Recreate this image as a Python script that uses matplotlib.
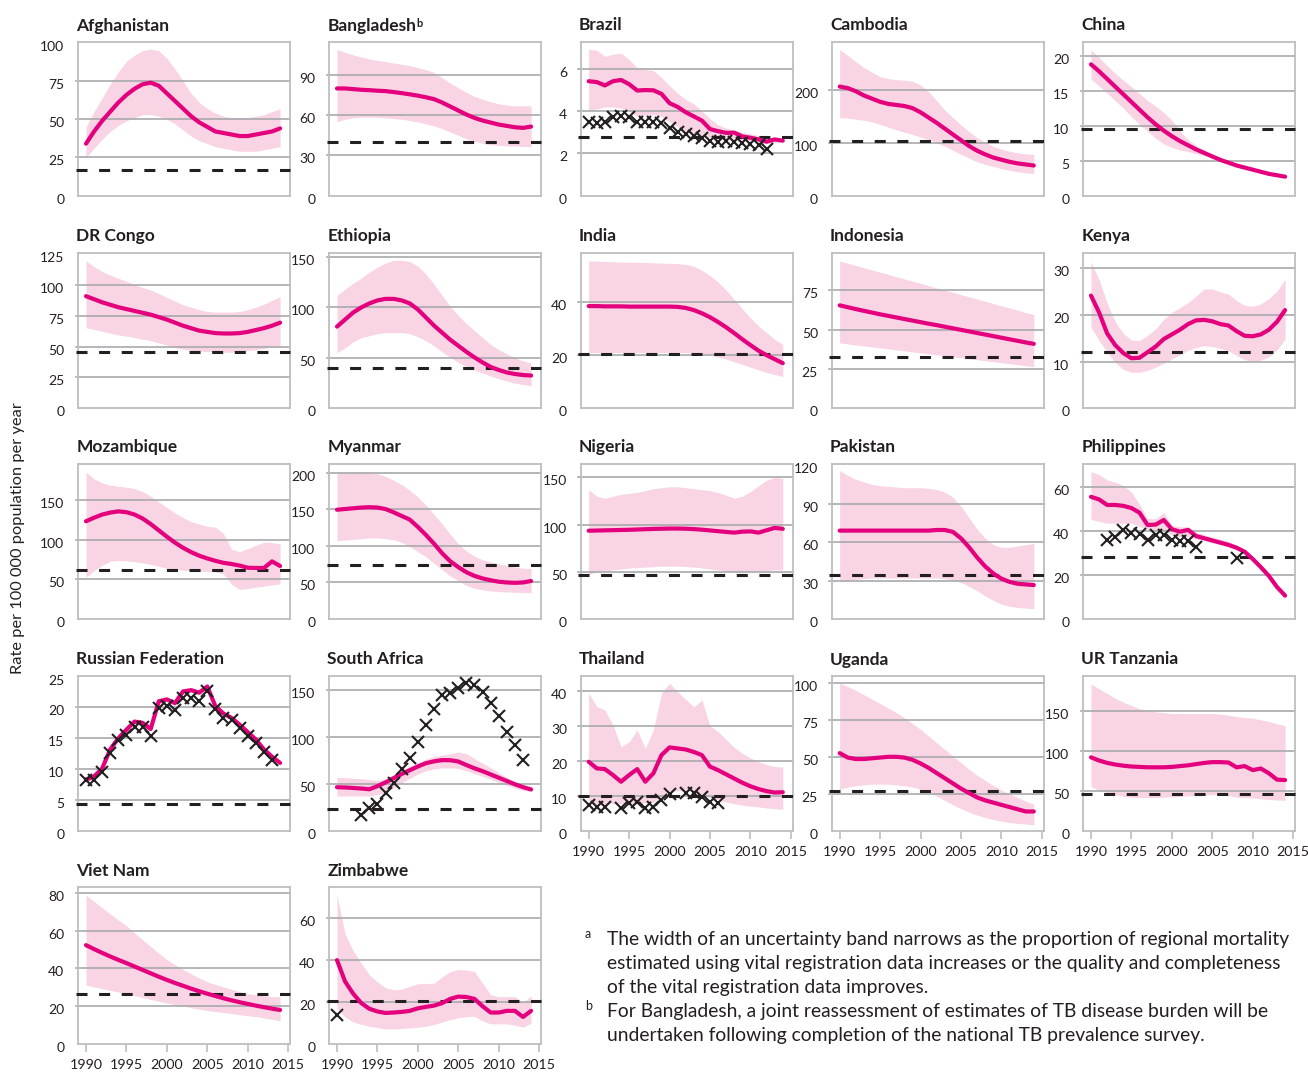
import matplotlib
matplotlib.use("Agg")
import matplotlib.pyplot as plt
from matplotlib.transforms import blended_transform_factory, ScaledTranslation

plt.rcParams['font.family'] = ['Lato', 'DejaVu Sans']

years = list(range(1990, 2015))

# ---------------- data (rate per 100 000 population per year) ----------------
afg_best = [34, 42, 49, 55, 61, 66, 70, 73, 74, 72, 67, 62, 57, 52, 48, 45, 42, 41, 40, 39, 39, 40, 41, 42, 44]
afg_lo = [25, 31, 37, 42, 46, 49, 51, 53, 53, 52, 50, 47, 43, 39, 36, 34, 32, 31, 30, 29, 29, 29, 30, 31, 32]
afg_hi = [45, 55, 64, 73, 81, 88, 92, 95, 96, 95, 90, 83, 75, 67, 61, 57, 54, 52, 51, 51, 51, 52, 53, 55, 57]

bgd_best = [80, 80, 79.5, 79, 78.7, 78.3, 78, 77.3, 76.5, 75.6, 74.6, 73.4, 72, 69.5, 66.5, 63.5, 60.5, 58, 56, 54.5, 53, 52, 51, 50.5, 51.5]
bgd_lo = [55, 57, 58, 58.5, 58.5, 58.5, 58, 57.5, 57, 56, 55, 53.5, 52, 50, 47.5, 45, 42.5, 40.5, 39, 38, 37.5, 37, 37, 36.5, 36.5]
bgd_hi = [109, 107, 105, 103.5, 102, 101, 100, 99, 98, 97, 95.5, 94, 92, 88, 84, 80.5, 77, 74, 72, 70, 68.5, 67.5, 67, 67, 67]

bra_best = [5.42, 5.38, 5.22, 5.42, 5.48, 5.28, 4.98, 5.0, 4.99, 4.82, 4.38, 4.2, 3.95, 3.75, 3.55, 3.15, 3.05, 2.97, 2.98, 2.8, 2.74, 2.66, 2.55, 2.66, 2.6]
bra_lo = [4.07, 4.1, 4.2, 4.2, 4.15, 3.99, 3.76, 3.8, 3.84, 3.75, 3.5, 3.25, 3.05, 2.9, 2.82, 2.74, 2.7, 2.68, 2.66, 2.62, 2.58, 2.52, 2.48, 2.52, 2.55]
bra_hi = [6.93, 6.9, 6.6, 6.7, 6.75, 6.45, 6.05, 5.98, 5.92, 5.6, 5.2, 4.85, 4.55, 4.35, 4.0, 3.65, 3.35, 3.2, 3.08, 3.0, 2.92, 2.85, 2.8, 2.72, 2.68]
bra_vr_years = list(range(1990, 2013))
bra_vr = [3.47, 3.45, 3.5, 3.72, 3.78, 3.72, 3.5, 3.47, 3.5, 3.45, 3.2, 3.0, 2.9, 2.8, 2.75, 2.6, 2.55, 2.58, 2.55, 2.5, 2.45, 2.4, 2.2]

khm_best = [207, 204, 198, 190, 184, 178, 174, 172, 170, 166, 158, 148, 138, 127, 116, 105, 94, 85, 78, 72, 68, 64, 61, 59, 57]
khm_lo = [148, 147, 145, 143, 140, 135, 130, 125, 120, 116, 111, 106, 100, 94, 86, 78, 71, 64, 59, 55, 51, 48, 45, 43, 42]
khm_hi = [277, 266, 254, 243, 234, 226, 222, 220, 219, 217, 210, 197, 180, 162, 148, 134, 121, 110, 101, 93, 88, 84, 81, 79, 78]

chn_best = [18.8, 17.8, 16.7, 15.6, 14.5, 13.4, 12.3, 11.2, 10.2, 9.3, 8.5, 7.8, 7.2, 6.6, 6.1, 5.6, 5.1, 4.7, 4.3, 4.0, 3.7, 3.4, 3.1, 2.9, 2.7]
chn_lo = [16.7, 15.7, 14.7, 13.6, 12.5, 11.3, 10.2, 9.2, 8.2, 7.4, 6.9, 6.5, 6.3, 6.0, 5.7, 5.4, 4.95, 4.55, 4.15, 3.85, 3.55, 3.25, 2.95, 2.75, 2.55]
chn_hi = [20.9, 19.8, 18.6, 17.5, 16.5, 15.6, 14.6, 13.6, 12.8, 11.9, 10.8, 9.3, 8.0, 7.2, 6.5, 5.8, 5.25, 4.85, 4.45, 4.15, 3.85, 3.55, 3.25, 3.05, 2.85]

cod_best = [91, 88.5, 86, 84, 82, 80.5, 79, 77.5, 76, 74, 72, 69.5, 67, 65, 63, 62, 61, 60.7, 60.7, 61, 62, 63.5, 65, 67, 69.5]
cod_lo = [65.5, 64, 62.5, 61, 59.5, 58.5, 57.5, 56, 55, 53, 51.5, 49.5, 48, 47, 46.5, 46, 45.7, 45.5, 45.5, 46, 47, 47.5, 48.5, 50, 51]
cod_hi = [119.6, 115, 111, 108, 105.5, 103, 100.5, 98, 96, 93, 90, 87, 84, 82, 80, 78.5, 78, 78, 78, 78.5, 80, 82, 84.5, 87.5, 90.5]

eth_best = [81, 88, 95, 100, 104, 107, 108.5, 108.5, 107, 104, 98, 90, 82, 75, 68, 62, 56, 50.5, 45.5, 41, 38, 35.5, 34, 33, 32.5]
eth_lo = [55, 60, 66, 70, 72, 74, 75, 75, 75, 74, 71, 67, 62, 56, 50.5, 45.5, 41.5, 38, 35, 32, 29.5, 27, 25, 23.5, 22.5]
eth_hi = [112, 118, 124, 129, 135, 140, 144, 146.7, 146.7, 145.5, 141, 133, 123, 112, 101, 92, 84, 77, 70, 63.5, 58, 54, 50, 47, 45]

ind_best = [38.5, 38.5, 38.4, 38.4, 38.4, 38.3, 38.3, 38.3, 38.3, 38.3, 38.3, 38.2, 37.8, 37, 35.8, 34.3, 32.5, 30.5, 28.3, 26, 23.8, 21.7, 20, 18.5, 17]
ind_lo = [21, 21, 21, 21, 21, 21, 21, 21, 21, 21, 21, 21, 21, 20.8, 20.5, 20, 19.3, 18.5, 17.5, 16.5, 15.5, 14.5, 13.5, 12.7, 12]
ind_hi = [55.5, 55.4, 55.3, 55.2, 55.1, 55, 55, 54.9, 54.8, 54.7, 54.6, 54.5, 54.2, 53.5, 52, 50, 47.5, 44.5, 41, 37.5, 34, 31, 28.5, 26, 24]

idn_best = [65.5, 64.3, 63.1, 62.0, 60.9, 59.8, 58.8, 57.8, 56.8, 55.8, 54.8, 53.8, 52.9, 51.9, 50.9, 49.9, 48.9, 47.9, 46.9, 45.9, 44.9, 43.9, 42.9, 41.9, 41.0]
idn_lo = [41.6, 41.0, 40.3, 39.7, 39.1, 38.5, 37.8, 37.2, 36.6, 35.9, 35.3, 34.7, 34.0, 33.4, 32.8, 32.2, 31.5, 30.9, 30.3, 29.6, 29.0, 28.4, 27.8, 27.1, 26.5]
idn_hi = [93.7, 92.3, 90.9, 89.4, 88.0, 86.6, 85.2, 83.7, 82.3, 80.9, 79.5, 78.0, 76.6, 75.2, 73.8, 72.3, 70.9, 69.5, 68.1, 66.6, 65.2, 63.8, 62.4, 60.9, 59.5]

ken_best = [24.1, 20.5, 16.0, 13.5, 11.8, 10.7, 10.8, 12.0, 13.2, 14.8, 15.8, 16.8, 18.0, 18.8, 18.9, 18.6, 18.0, 17.7, 16.5, 15.5, 15.4, 15.8, 16.8, 18.5, 21.0]
ken_lo = [17.3, 14.5, 12.0, 9.8, 8.3, 7.7, 7.7, 8.1, 8.8, 9.6, 10.5, 11.5, 12.4, 13.0, 13.4, 13.2, 12.8, 12.3, 11.3, 10.4, 10.0, 10.3, 11.0, 12.5, 14.8]
ken_hi = [31.3, 27.5, 22.5, 18.5, 16.0, 14.6, 14.5, 15.6, 17.0, 19.0, 20.5, 21.5, 22.6, 24.0, 25.5, 25.5, 24.9, 24.4, 23.0, 22.0, 21.8, 22.3, 23.5, 25.0, 27.6]

moz_best = [123.5, 128, 132, 134.5, 136, 135, 132, 127, 120, 112, 104, 96.5, 90, 84.5, 80, 76.5, 73.5, 71, 69.5, 67.5, 64.8, 64.5, 64.5, 72.8, 67]
moz_lo = [53, 61, 68, 73, 74, 73.5, 72.5, 71, 69, 66.5, 64, 62.5, 61.5, 61, 60.5, 60, 59.5, 57, 44, 37.5, 38.5, 40, 41.5, 43, 44.5]
moz_hi = [185.8, 177, 172, 169, 167.7, 166.5, 164.8, 161, 155, 148, 141, 134, 128, 123, 120, 117, 116, 108, 88, 85, 89, 93, 97, 96.5, 95]

mmr_best = [149.5, 150.5, 151.5, 152.5, 153, 152.5, 150.5, 146, 141, 136, 126, 115, 103, 90, 79, 71, 64, 59, 55.5, 53, 51, 50, 49.5, 50, 52]
mmr_lo = [107, 108, 109, 110, 111, 111, 110, 108.5, 105, 99, 92, 85, 76, 67.5, 59, 52, 46, 42, 40, 38.5, 37.5, 37, 36.5, 36.2, 36]
mmr_hi = [200, 200.5, 201, 201, 201, 199, 195, 190, 184, 176, 167, 156, 143, 130, 116, 103, 93, 86, 81, 78, 75.5, 73, 71, 69.5, 69]

nga_best = [93.5, 93.7, 93.9, 94.1, 94.3, 94.5, 94.8, 95.1, 95.4, 95.6, 95.8, 95.8, 95.6, 95.2, 94.6, 93.8, 93, 92.2, 91.5, 92.5, 92.8, 91.5, 94, 96.5, 95.5]
nga_lo = [47, 50, 51, 52, 53, 54, 54.5, 55, 55.5, 56, 56, 56, 55.5, 55, 54, 53, 52, 51, 50, 50, 50.5, 51, 51.5, 52, 52]
nga_hi = [137, 130, 128, 130, 132, 133, 134, 136, 138, 139, 140, 140, 139, 138, 137, 136, 134, 131, 128, 130, 135, 141, 147, 150, 149]

pak_best = [69, 69, 69, 69, 69, 69, 69, 69, 69, 69, 69, 69, 69.5, 69.5, 68, 63, 56, 48, 41, 35.5, 31.5, 29, 27.5, 27, 26.5]
pak_lo = [29, 30, 31, 31.5, 32, 32, 32, 32, 32, 32, 32, 32, 32, 31.5, 30.5, 28.5, 25.5, 22, 18, 14.5, 11.5, 10, 9, 8.5, 8]
pak_hi = [116, 112, 109, 107, 105, 104, 103.5, 103, 102.5, 102.5, 102.5, 102, 101, 99, 95, 88, 79, 70, 63, 58, 56, 56, 57, 58, 59]

phl_best = [55.4, 54.2, 51.7, 51.7, 51.3, 50.3, 48.2, 42.6, 42.8, 44.9, 40.7, 39.6, 40.4, 37.6, 36.6, 35.6, 34.6, 33.6, 32.3, 30.5, 27.2, 23.5, 19.5, 14.5, 10.6]
phl_lo = [45.2, 44.3, 43.4, 43.4, 43.4, 43.4, 42, 40.7, 40.4, 40.4, 38, 37.3, 37.3, 36.3, 35.5, 34.6, 33.7, 32.8, 31.5, 29.8, 26.8, 23.1, 19.2, 14.2, 10.3]
phl_hi = [66.7, 65.5, 63, 62, 60.5, 57.5, 52, 45.5, 45.5, 48.2, 42.5, 41.8, 41.8, 39.2, 38.2, 37.2, 36.2, 35.2, 33.5, 30.8, 27.5, 23.8, 19.8, 14.8, 10.9]
phl_vr_years = [1992, 1993, 1994, 1995, 1996, 1997, 1998, 1999, 2000, 2001, 2002, 2003, 2008]
phl_vr = [36, 37, 40.5, 39, 38.5, 36, 38, 38, 36, 35.5, 35.5, 32.5, 27.5]

rus_best = [8.3, 8.8, 10.1, 13.2, 15.0, 16.4, 17.7, 17.5, 16.5, 21.0, 21.3, 20.7, 22.6, 22.8, 22.4, 23.4, 20.2, 19.0, 18.3, 17.2, 16.0, 14.8, 13.2, 12.0, 11.0]
rus_lo = [7.9, 8.4, 9.7, 12.8, 14.6, 16.0, 17.3, 17.1, 16.1, 20.6, 20.9, 20.3, 22.2, 22.4, 22.0, 23.0, 19.8, 18.6, 17.9, 16.8, 15.6, 14.4, 12.8, 11.6, 10.6]
rus_hi = [8.7, 9.2, 10.5, 13.6, 15.4, 16.8, 18.1, 17.9, 16.9, 21.4, 21.7, 21.1, 23.0, 23.2, 22.8, 23.8, 20.6, 19.4, 18.7, 17.6, 16.4, 15.2, 13.6, 12.4, 11.4]
rus_vr_years = list(range(1990, 2014))
rus_vr = [8.25, 8.25, 9.6, 12.6, 14.7, 15.5, 16.8, 16.8, 15.3, 19.9, 20.3, 19.6, 21.5, 21.5, 21.1, 22.6, 19.7, 18.3, 17.9, 16.6, 15.3, 14.3, 12.7, 11.5]

zaf_best = [46.4, 46.1, 45.6, 45.0, 44.2, 47.5, 51.5, 56, 60.5, 64.5, 68.5, 72, 74, 75.3, 75.2, 73.8, 70, 66.5, 63.5, 60, 56.5, 53, 49.5, 46.5, 44]
zaf_lo = [37, 37, 37, 37, 37, 38.5, 41, 45.5, 51, 56, 60.5, 64, 66, 67, 67, 66.5, 64, 61, 58, 55, 51.5, 48.5, 45.5, 43, 42]
zaf_hi = [57, 56.5, 56, 55.5, 54.5, 53.5, 55.5, 60, 64.5, 68.5, 72.5, 76.5, 79, 80.5, 82, 84, 82, 77, 72, 67, 62, 57, 52, 48.5, 46]
zaf_vr_years = list(range(1993, 2014))
zaf_vr = [17, 24, 28.4, 40.3, 51.1, 65.5, 78, 94.3, 112.3, 130.3, 144.7, 147.2, 152.6, 157.3, 155.5, 148.3, 135.7, 122, 105.8, 91.8, 75.3]

tha_best = [19.7, 17.8, 17.6, 15.9, 14.0, 15.9, 17.6, 14.0, 16.4, 21.6, 23.8, 23.5, 23.2, 22.5, 21.6, 18.3, 17.3, 16.1, 14.9, 13.7, 12.7, 11.9, 11.3, 10.9, 11.0]
tha_lo = [7.6, 7.6, 7.6, 7.7, 7.7, 7.8, 7.8, 7.9, 8.2, 9.7, 11.1, 11.4, 11.6, 11.2, 10.3, 9.5, 8.8, 8.2, 7.7, 7.3, 7.0, 6.8, 6.5, 6.3, 6.1]
tha_hi = [39.3, 35.5, 34.5, 30.2, 24.0, 25.4, 28.8, 23.5, 28.8, 39.3, 42.1, 39.7, 37.5, 35.4, 37.3, 29.9, 28.3, 26.0, 23.8, 22.1, 20.8, 19.7, 18.9, 18.3, 18.2]
tha_vr_years = [1990, 1991, 1992, 1994, 1995, 1996, 1997, 1998, 1999, 2000, 2002, 2003, 2004, 2005, 2006]
tha_vr = [7.3, 6.9, 6.9, 6.4, 7.8, 8.3, 6.4, 6.9, 8.8, 10.5, 10.9, 10.7, 9.7, 8.3, 8.0]

uga_best = [52.5, 49.5, 48.5, 48.5, 49, 49.5, 50, 50, 49.5, 48, 45.5, 42.5, 39, 35.5, 32, 28.5, 25.5, 22.5, 20.5, 19, 17.5, 16, 14.5, 13, 13]
uga_lo = [28, 29.5, 30.5, 31, 31.5, 31.5, 31.5, 31, 30.5, 29.5, 28, 26, 23.5, 20.5, 17.5, 15, 12.5, 10.5, 9, 7.5, 6.5, 5.5, 5, 4.5, 4]
uga_hi = [100, 97.5, 95, 92, 89, 86, 83, 80, 76.5, 72.5, 68.5, 64, 59.5, 55, 50.5, 46, 41.5, 37.5, 34, 30.5, 27.5, 25, 22.5, 20, 18]

tza_best = [92, 88, 85, 83, 81.5, 80.5, 80, 79.5, 79.5, 79.5, 80, 81, 82, 83.5, 85, 86, 86, 85.5, 79.5, 81, 76, 78, 72, 64, 63.5]
tza_lo = [55, 51, 48, 45, 43, 42, 41.5, 41.5, 41.5, 42, 42.5, 43, 43.5, 44, 44.5, 45, 45, 44, 42, 41.5, 41, 40, 39, 38.5, 38]
tza_hi = [184, 178, 172, 166, 161, 157, 153, 151, 149, 148, 147, 147, 147, 147, 147, 147, 146, 145, 143, 142, 141, 139, 137, 134, 132]

vnm_best = [52.3, 50.2, 48.2, 46.3, 44.5, 42.8, 41, 39.2, 37.4, 35.6, 33.9, 32.3, 30.8, 29.3, 27.9, 26.6, 25.4, 24.2, 23.1, 22.1, 21.2, 20.3, 19.5, 18.7, 18]
vnm_lo = [31.2, 30.2, 29.3, 28.4, 27.5, 26.6, 25.6, 24.6, 23.6, 22.6, 21.6, 20.8, 20, 19.2, 18.4, 17.7, 17.2, 16.6, 16.1, 15.5, 15, 14.5, 13.8, 13, 12.3]
vnm_hi = [78.8, 75.4, 72, 68.8, 65.6, 62.6, 58.8, 55.1, 51.6, 48, 44.6, 42, 39.5, 37.1, 34.9, 32.9, 31.5, 30.2, 28.9, 27.7, 26.6, 26, 25.5, 25.1, 24.9]

zwe_best = [40, 29.8, 24, 19.5, 16.8, 15.5, 14.8, 15, 15.3, 15.8, 17, 17.7, 18.3, 19.5, 21.5, 22.6, 22.4, 21.5, 18, 15, 15, 15.8, 15.8, 12.9, 15.8]
zwe_lo = [16.9, 12.9, 10.5, 9.4, 8.5, 7.8, 7.2, 7.2, 7.4, 7.7, 8, 8.5, 9.3, 10.5, 11.6, 12.5, 13, 13.2, 11, 9.6, 9.6, 9.6, 9, 8, 10]
zwe_hi = [71, 52.4, 44.5, 38.5, 33, 29.5, 26.8, 25.8, 26.2, 27.5, 28.7, 28.8, 29, 32, 34.5, 35.5, 35.3, 34.5, 29, 23.5, 22.5, 22.6, 22.6, 19.7, 23]
zwe_vr_years = [1990]
zwe_vr = [13.7]

# target (dashed) levels
targets = [17, 40, 2.77, 103, 9.5, 45.7, 40, 20.3, 32.4, 12.1, 61.4, 74.3, 47, 34.5, 28,
           4.3, 23, 10, 27, 46, 26.3, 20.5]
titles = ["Afghanistan", "Bangladesh", "Brazil", "Cambodia", "China",
          "DR Congo", "Ethiopia", "India", "Indonesia", "Kenya",
          "Mozambique", "Myanmar", "Nigeria", "Pakistan", "Philippines",
          "Russian Federation", "South Africa", "Thailand", "Uganda", "UR Tanzania",
          "Viet Nam", "Zimbabwe"]
ytick_sets = [[0, 25, 50, 75, 100], [0, 30, 60, 90], [0, 2, 4, 6], [0, 100, 200], [0, 5, 10, 15, 20],
              [0, 25, 50, 75, 100, 125], [0, 50, 100, 150], [0, 20, 40], [0, 25, 50, 75], [0, 10, 20, 30],
              [0, 50, 100, 150], [0, 50, 100, 150, 200], [0, 50, 100, 150], [0, 30, 60, 90, 120], [0, 20, 40, 60],
              [0, 5, 10, 15, 20, 25], [0, 50, 100, 150], [0, 10, 20, 30, 40], [0, 25, 50, 75, 100], [0, 50, 100, 150],
              [0, 20, 40, 60, 80], [0, 20, 40, 60]]
ymaxes = [100.7, 114.7, 7.28, 291.6, 22, 126, 154, 58.5, 98.8, 33.2,
          196.5, 212.8, 164.7, 121.4, 70.5, 25.1, 165, 44.2, 104.7, 194, 82.9, 74.7]
xtick_labels = [1990, 1995, 2000, 2005, 2010, 2015]

series = [
    (afg_best, afg_lo, afg_hi, None, None),
    (bgd_best, bgd_lo, bgd_hi, None, None),
    (bra_best, bra_lo, bra_hi, bra_vr_years, bra_vr),
    (khm_best, khm_lo, khm_hi, None, None),
    (chn_best, chn_lo, chn_hi, None, None),
    (cod_best, cod_lo, cod_hi, None, None),
    (eth_best, eth_lo, eth_hi, None, None),
    (ind_best, ind_lo, ind_hi, None, None),
    (idn_best, idn_lo, idn_hi, None, None),
    (ken_best, ken_lo, ken_hi, None, None),
    (moz_best, moz_lo, moz_hi, None, None),
    (mmr_best, mmr_lo, mmr_hi, None, None),
    (nga_best, nga_lo, nga_hi, None, None),
    (pak_best, pak_lo, pak_hi, None, None),
    (phl_best, phl_lo, phl_hi, phl_vr_years, phl_vr),
    (rus_best, rus_lo, rus_hi, rus_vr_years, rus_vr),
    (zaf_best, zaf_lo, zaf_hi, zaf_vr_years, zaf_vr),
    (tha_best, tha_lo, tha_hi, tha_vr_years, tha_vr),
    (uga_best, uga_lo, uga_hi, None, None),
    (tza_best, tza_lo, tza_hi, None, None),
    (vnm_best, vnm_lo, vnm_hi, None, None),
    (zwe_best, zwe_lo, zwe_hi, zwe_vr_years, zwe_vr),
]
with_xlabels = {"Thailand", "Uganda", "UR Tanzania", "Viet Nam", "Zimbabwe"}

# ---------------- styling ----------------
W, H = 1308, 1073
MAG = "#E4007C"
BAND = "#F8D4E4"
GRID = "#A7A9AC"
BOX = "#BCBEC0"
DASH = "#231F20"
TXT = "#231F20"

col_left = [78.3, 329.3, 581, 832, 1083.3]
col_w = 211.5
row_top = [42, 253, 463.5, 676, 887.3]
row_bot = [195.5, 408.3, 619, 830.7, 1044]

fig = plt.figure(figsize=(W / 100, H / 100), dpi=100)

for i, (name, (best, lo, hi, vyr, vval)) in enumerate(zip(titles, series)):
    r, c = divmod(i, 5)
    l, t, b = col_left[c], row_top[r], row_bot[r]
    ax = fig.add_axes([l / W, 1 - b / H, col_w / W, (b - t) / H])
    ymax = ymaxes[i]
    ax.fill_between(years, lo, hi, color=BAND, lw=0, zorder=1)
    for v in ytick_sets[i][1:]:
        if v < ymax * 0.985:
            ax.axhline(v, xmin=-0.012, xmax=1, color=GRID, lw=1.2, zorder=2, clip_on=False)
    ax.axhline(targets[i], xmin=-0.012, xmax=1, color=DASH, lw=2.2, dashes=(3.6, 3.8),
               zorder=3, clip_on=False)
    ax.plot(years, best, color=MAG, lw=3.0, zorder=4, solid_capstyle='round',
            solid_joinstyle='round')
    if vyr is not None:
        ax.plot(vyr, vval, ls='none', marker='x', ms=8.5, mew=1.5, color=TXT, zorder=5)
    ax.set_xlim(1989.05, 2015.2)
    ax.set_ylim(0, ymax)
    ax.set_yticks([])
    for s in ax.spines.values():
        s.set_color(BOX)
        s.set_linewidth(1.3)
    trans = blended_transform_factory(ax.transAxes, ax.transData) + \
        ScaledTranslation(-0.14, -0.04, fig.dpi_scale_trans)
    for v in ytick_sets[i]:
        ax.text(0, v, str(v), transform=trans, ha='right', va='center',
                fontsize=10, color=TXT)
    if name in with_xlabels:
        ax.set_xticks(xtick_labels)
        ax.set_xticklabels([str(x) for x in xtick_labels])
        ax.tick_params(axis='x', length=6, width=1.2, color=BOX, pad=5,
                       labelsize=10.3, labelcolor=TXT)
    else:
        ax.set_xticks([])
    ttrans = ax.transAxes + ScaledTranslation(-0.02, 0.115, fig.dpi_scale_trans)
    ttl = ax.text(0, 1, name, transform=ttrans, ha='left', va='baseline',
                  fontsize=12.5, fontweight='bold', color=TXT)
    if name == "Bangladesh":
        ax.annotate("b", xy=(1, 1), xycoords=ttl, xytext=(0.3, -0.5), textcoords='offset points',
                    ha='left', va='top', fontsize=8, fontweight='bold', color=TXT)

fig.text(18 / W, 1 - 538 / H, "Rate per 100 000 population per year", rotation=90,
         ha='center', va='center', fontsize=11.8, color=TXT)

foot_a = ["The width of an uncertainty band narrows as the proportion of regional mortality",
          "estimated using vital registration data increases or the quality and completeness",
          "of the vital registration data improves."]
foot_b = ["For Bangladesh, a joint reassessment of estimates of TB disease burden will be",
          "undertaken following completion of the national TB prevalence survey."]
fs = 13.85
fig.text(585 / W, 1 - 938 / H, "a", ha='left', va='baseline', fontsize=9, color=TXT)
for k, line in enumerate(foot_a):
    fig.text(607 / W, 1 - (945 + 24 * k) / H, line, ha='left', va='baseline', fontsize=fs, color=TXT)
fig.text(585 / W, 1 - 1010 / H, "b", ha='left', va='baseline', fontsize=9, color=TXT)
for k, line in enumerate(foot_b):
    fig.text(607 / W, 1 - (1017 + 24 * k) / H, line, ha='left', va='baseline', fontsize=fs, color=TXT)

fig.savefig("out.png", dpi=100, facecolor='white')
